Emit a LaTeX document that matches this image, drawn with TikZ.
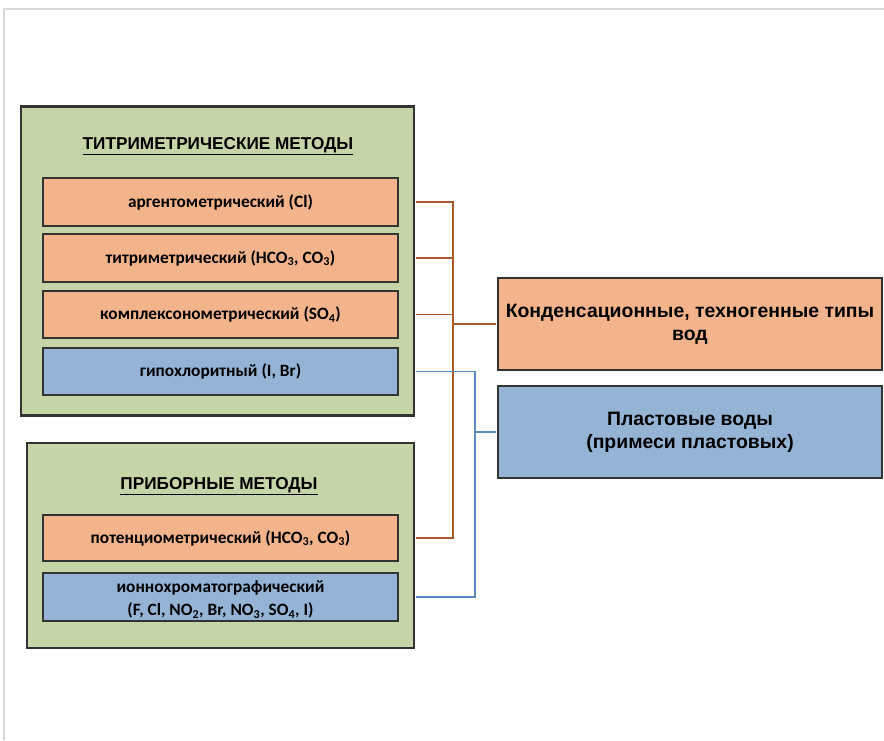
\documentclass[tikz,border=0pt]{standalone}
\usepackage{fontspec}
\setmainfont{Liberation Sans}
\newfontfamily\carl{Carlito}
\definecolor{grn}{HTML}{C6D5A8}
\definecolor{org}{HTML}{F3B48B}
\definecolor{blu}{HTML}{95B4D5}
\definecolor{brn}{HTML}{A65A2C}
\definecolor{bln}{HTML}{5A8CBF}
\definecolor{edge}{HTML}{333333}
\definecolor{frm}{HTML}{D8D8D8}
\tikzset{
  box/.style={draw=edge, line width=2.4pt, inner sep=2pt, align=center, font=\carl\bfseries\fontsize{17.3}{24}\selectfont},
  obox/.style={box, fill=org},
  bbox/.style={box, fill=blu},
  gbox/.style={draw=edge, line width=2.4pt, fill=grn},
  bigbox/.style={draw=edge, line width=2.4pt, align=center, font=\bfseries\fontsize{19.4}{23}\selectfont},
  ttl/.style={font=\bfseries\fontsize{17.2}{19}\selectfont},
  bconn/.style={draw=brn, line width=1.8pt},
  lconn/.style={draw=bln, line width=1.8pt}
}
\begin{document}
\begin{tikzpicture}[x=1pt,y=-1pt]
\useasboundingbox (0,0) rectangle (884,740);
\draw[frm, line width=1.3pt] (4,740) -- (4,9) -- (884,9);
\coordinate (jb) at (453,324);
\coordinate (jl) at (475,432);
% group boxes
\node[gbox, minimum width=393pt, minimum height=309pt] (g1) at (217.5,261) {};
\node[gbox, minimum width=387pt, minimum height=205pt] (g2) at (220.5,545.5) {};
\node[ttl] (t1) at (218,146) {\underline{ТИТРИМЕТРИЧЕСКИЕ МЕТОДЫ}};
\node[ttl] (t2) at (219,486) {\underline{ПРИБОРНЫЕ МЕТОДЫ}};
\node[obox, minimum width=355pt, minimum height=48pt] (b1) at (220.5,202) {аргентометрический (Cl)};
\node[obox, minimum width=355pt, minimum height=48pt] (b2) at (220.5,258) {титриметрический (HCO\textsubscript{3}, CO\textsubscript{3})};
\node[obox, minimum width=355pt, minimum height=47pt] (b3) at (220.5,314.5) {комплексонометрический (SO\textsubscript{4})};
\node[bbox, minimum width=355pt, minimum height=47pt] (b4) at (220.5,371.5) {гипохлоритный (I, Br)};
\node[obox, minimum width=355pt, minimum height=46pt] (p1) at (220.5,538) {потенциометрический (HCO\textsubscript{3}, CO\textsubscript{3})};
\node[bbox, minimum width=355pt, minimum height=48pt] (p2) at (220.5,597) {\smash{\raisebox{-6.3pt}{\begin{tabular}{@{}c@{}}ионнохроматографический\\[-0.5pt](F, Cl, NO\textsubscript{2}, Br, NO\textsubscript{3}, SO\textsubscript{4}, I)\end{tabular}}}};
\node[bigbox, fill=org, minimum width=384pt, minimum height=92pt] (r1) at (690,324) {Конденсационные, техногенные типы\\вод};
\node[bigbox, fill=blu, minimum width=384pt, minimum height=92pt] (r2) at (690,432) {Пластовые воды\\(примеси пластовых)};
% connectors
\draw[bconn] ([xshift=1.2pt]b1.east -| g1.east) -- (b1.east -| jb) -- (p1.east -| jb) -- ([xshift=1.2pt]p1.east -| g2.east);
\draw[bconn] ([xshift=1.2pt]b2.east -| g1.east) -- (b2.east -| jb);
\draw[bconn] ([xshift=1.2pt]b3.east -| g1.east) -- (b3.east -| jb);
\draw[bconn] (jb) -- ([xshift=-1.2pt]r1.west);
\draw[lconn] ([xshift=1.2pt]b4.east -| g1.east) -- (b4.east -| jl) -- (p2.east -| jl) -- ([xshift=1.2pt]p2.east -| g2.east);
\draw[lconn] (jl) -- ([xshift=-1.2pt]r2.west);
\end{tikzpicture}
\end{document}
